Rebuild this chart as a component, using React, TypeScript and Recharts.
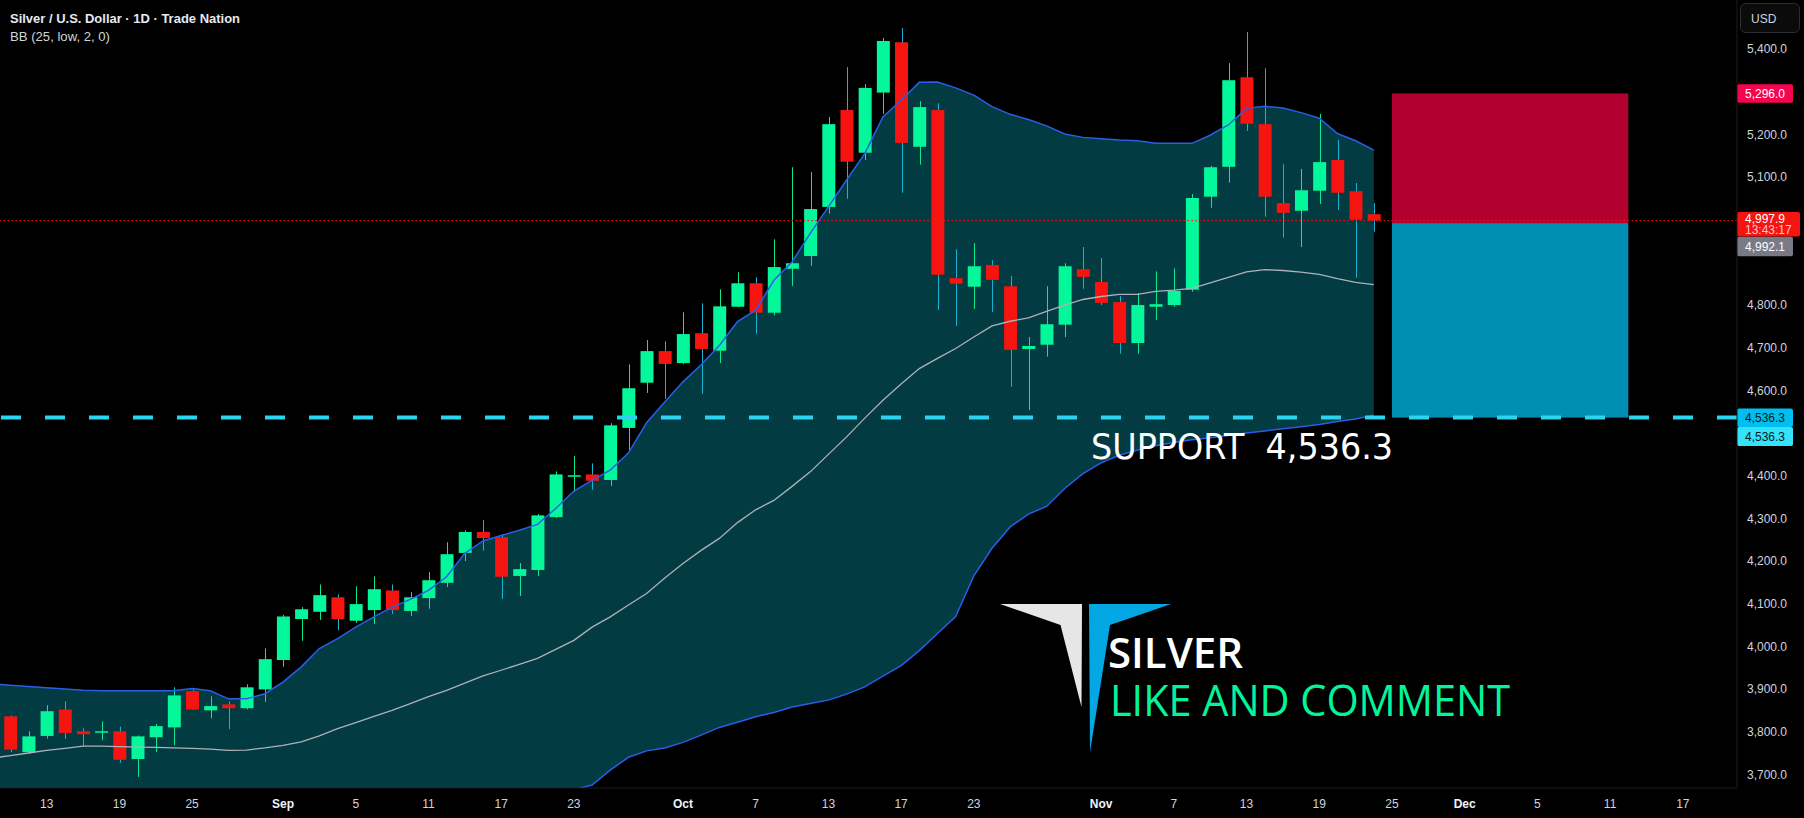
import React from 'react';
import {
  ComposedChart,
  Area,
  Line,
  Bar,
  XAxis,
  YAxis,
  ReferenceLine,
  ReferenceArea,
} from 'recharts';

// daily sessions Aug 11 .. Nov 24 (index 0..75)
const opens = [
  3836, 3752, 3790, 3852, 3801, 3799, 3801, 3736, 3787, 3810, 3895, 3850, 3864, 3855, 3899, 3968, 4064, 4081, 4115, 4060,
  4085, 4131, 4083, 4113, 4149, 4219, 4268, 4256, 4165, 4179, 4303, 4399, 4403, 4390, 4512, 4618, 4692, 4664, 4734, 4693,
  4796, 4851, 4782, 4885, 4915, 5030, 5257, 5157, 5298, 5416, 5171, 5257, 4863, 4843, 4894, 4844, 4697, 4707, 4754, 4884,
  4854, 4807, 4711, 4796, 4800, 4836, 5054, 5124, 5334, 5224, 5039, 5021, 5068, 5140, 5067, 5013,
];
const highs = [
  3838, 3801, 3862, 3871, 3808, 3824, 3812, 3791, 3818, 3904, 3899, 3883, 3871, 3911, 3995, 4074, 4092, 4145, 4122, 4141,
  4164, 4145, 4127, 4174, 4244, 4272, 4296, 4263, 4195, 4310, 4410, 4446, 4429, 4523, 4661, 4718, 4715, 4783, 4804, 4837,
  4877, 4865, 4954, 5123, 5112, 5241, 5358, 5318, 5426, 5449, 5278, 5273, 4931, 4945, 4905, 4868, 4725, 4844, 4898, 4936,
  4910, 4821, 4828, 4879, 4886, 5060, 5126, 5367, 5440, 5355, 5130, 5119, 5248, 5187, 5086, 5039,
];
const lows = [
  3752, 3748, 3784, 3783, 3766, 3780, 3727, 3694, 3752, 3768, 3851, 3831, 3806, 3852, 3870, 3952, 4013, 4062, 4038, 4055,
  4052, 4076, 4071, 4088, 4139, 4200, 4224, 4111, 4118, 4165, 4301, 4362, 4367, 4376, 4458, 4594, 4580, 4662, 4592, 4664,
  4795, 4733, 4776, 4845, 4892, 5014, 5049, 5140, 5248, 5063, 5129, 4789, 4751, 4791, 4784, 4608, 4554, 4679, 4725, 4838,
  4800, 4686, 4686, 4765, 4796, 4831, 5028, 5087, 5208, 5007, 4958, 4936, 5037, 5023, 4864, 4972,
];
const closes = [
  3758, 3789, 3848, 3797, 3794, 3801, 3734, 3789, 3813, 3885, 3852, 3860, 3855, 3904, 3970, 4070, 4087, 4120, 4064, 4099,
  4134, 4085, 4115, 4155, 4216, 4268, 4254, 4163, 4181, 4307, 4403, 4401, 4388, 4518, 4605, 4692, 4662, 4732, 4697, 4797,
  4851, 4782, 4889, 4898, 5025, 5224, 5136, 5309, 5419, 5180, 5264, 4871, 4850, 4891, 4859, 4695, 4704, 4755, 4891, 4866,
  4805, 4711, 4800, 4802, 4833, 5051, 5123, 5327, 5225, 5054, 5016, 5069, 5135, 5063, 5000, 4997.9,
];

// Bollinger bands, one extra leading session (Aug 8) that sits off the left edge
const bbUpper = [
  3912, 3909, 3906, 3903, 3900, 3897, 3896, 3896, 3896, 3896, 3896, 3901, 3896, 3877, 3877, 3889, 3916, 3952, 3995, 4018,
  4045, 4069, 4092, 4110, 4131, 4163, 4218, 4247, 4260, 4272, 4286, 4323, 4364, 4389, 4413, 4453, 4524, 4573, 4620, 4660,
  4705, 4761, 4788, 4858, 4901, 4968, 5030, 5093, 5155, 5241, 5280, 5322, 5323, 5309, 5292, 5265, 5247, 5235, 5220, 5201,
  5193, 5190, 5187, 5185, 5179, 5179, 5179, 5198, 5222, 5261, 5266, 5262, 5251, 5238, 5202, 5185, 5163,
];
const bbMid = [
  3738, 3744, 3750, 3756, 3761, 3766, 3766, 3765, 3764, 3763, 3762, 3761, 3759, 3756, 3757, 3762, 3768, 3776, 3790, 3807,
  3821, 3836, 3850, 3866, 3882, 3897, 3914, 3931, 3944, 3958, 3972, 3993, 4014, 4045, 4069, 4097, 4124, 4160, 4194, 4225,
  4253, 4290, 4320, 4342, 4375, 4409, 4450, 4491, 4535, 4577, 4615, 4651, 4675, 4698, 4725, 4751, 4762, 4770, 4785, 4800,
  4813, 4820, 4825, 4825, 4832, 4835, 4839, 4852, 4865, 4878, 4883, 4881, 4877, 4872, 4862, 4853, 4848,
];
const bbLower = [
  3564, 3579, 3594, 3609, 3622, 3635, 3636, 3634, 3632, 3630, 3628, 3621, 3622, 3635, 3637, 3635, 3620, 3600, 3585, 3596,
  3597, 3603, 3608, 3622, 3633, 3631, 3610, 3615, 3628, 3644, 3658, 3663, 3664, 3675, 3710, 3740, 3755, 3762, 3775, 3792,
  3810, 3822, 3835, 3845, 3858, 3866, 3874, 3888, 3905, 3930, 3955, 3990, 4030, 4070, 4165, 4230, 4280, 4310, 4328, 4370,
  4405, 4430, 4448, 4460, 4470, 4478, 4484, 4489, 4494, 4500, 4505, 4510, 4515, 4520, 4527, 4533, 4542,
];

const dateTicks = [2, 6, 10, 15, 19, 23, 27, 31, 37, 41, 45, 49, 53, 60, 64, 68, 72, 76, 80, 84, 88, 92];
const dateLabels = ['13', '19', '25', 'Sep', '5', '11', '17', '23', 'Oct', '7', '13', '17', '23', 'Nov', '7', '13', '19', '25', 'Dec', '5', '11', '17'];
// 4,500 / 4,900 / 5,000 / 5,300 sit under the price tags in the picture
const priceTicks = [3700, 3800, 3900, 4000, 4100, 4200, 4300, 4400, 4600, 4700, 4800, 5100, 5200, 5400];

const lastPrice = 4997.9;
const entryPrice = 4992.1;
const stopPrice = 5296.0;
const supportPrice = 4536.3;
const countdown = '13:43:17';
const boxFrom = 76;
const boxTo = 89;

const GREEN = '#04f79a';
const RED = '#f5140f';
const GREEN_WICK = '#0be890';
const RED_WICK = '#19b2d2';
const FONT = '"Liberation Sans", Arial, sans-serif';

const rows: any[] = [];
for (let i = -1; i < 95; i++) {
  const row: any = { i };
  const b = i + 1;
  if (b < bbUpper.length) {
    row.band = [bbLower[b], bbUpper[b]];
    row.up = bbUpper[b];
    row.mid = bbMid[b];
    row.low = bbLower[b];
  }
  if (i >= 0 && i < opens.length) {
    row.o = opens[i];
    row.h = highs[i];
    row.l = lows[i];
    row.c = closes[i];
    row.hl = [lows[i], highs[i]];
  }
  rows.push(row);
}

function Candle(props: any) {
  const { x, y, width, height, payload } = props;
  if (!payload || payload.o == null) return null;
  const top = Math.min(y, y + height);
  const bot = Math.max(y, y + height);
  const span = payload.h - payload.l || 1;
  const py = (p: number) => bot - ((p - payload.l) / span) * (bot - top);
  const up = payload.c >= payload.o;
  const cx = Math.round(x + width / 2) + 0.5;
  const bTop = py(Math.max(payload.o, payload.c));
  const bBot = py(Math.min(payload.o, payload.c));
  return (
    <g>
      <line x1={cx} x2={cx} y1={top} y2={bot} stroke={up ? GREEN_WICK : RED_WICK} strokeWidth={1} />
      <rect x={x} y={bTop} width={width} height={Math.max(bBot - bTop, 1.5)} fill={up ? GREEN : RED} />
    </g>
  );
}

function DateTick(props: any) {
  const { x, y, payload } = props;
  const k = dateTicks.indexOf(payload.value);
  const label = dateLabels[k] ?? '';
  const month = isNaN(Number(label));
  return (
    <text
      x={x}
      y={y}
      dy="0.71em"
      textAnchor="middle"
      fontFamily={FONT}
      fontSize={12}
      fontWeight={month ? 700 : 400}
      fill={month ? '#f0f3fa' : '#d1d4dc'}
    >
      {label}
    </text>
  );
}

const fmt = (v: number) =>
  v.toLocaleString('en-US', { minimumFractionDigits: 1, maximumFractionDigits: 1 });

// price tags on the right scale, placed from the reference line's own y
function Tags({ viewBox, tags }: any) {
  if (!viewBox) return null;
  const x = viewBox.x + viewBox.width;
  const y = viewBox.y;
  return (
    <g>
      {tags.map((t: any, k: number) => (
        <g key={k}>
          <rect x={x} y={y + t.dy} width={t.w} height={t.h} fill={t.bg} rx={2} />
          {t.lines.map((ln: any, j: number) => (
            <text
              key={j}
              x={x + 8}
              y={y + t.dy + ln.cy}
              dy="0.35em"
              fontFamily={FONT}
              fontSize={12}
              fill={ln.color}
            >
              {ln.text}
            </text>
          ))}
        </g>
      ))}
    </g>
  );
}

function PosBox(props: any) {
  const { x, y, width, height, fill } = props;
  return <rect x={x} y={y} width={width} height={height} fill={fill} />;
}

export default function App() {
  return (
    <div style={{ position: 'absolute', left: 0, top: 0, width: 1804, height: 818, background: '#000', overflow: 'hidden' }}>
      <ComposedChart width={1804} height={818} data={rows} margin={{ top: 0, right: 0, bottom: 0, left: 0 }}>
        <XAxis
          dataKey="i"
          type="number"
          domain={[-0.567, 94.98]}
          allowDataOverflow
          ticks={dateTicks}
          tick={<DateTick />}
          tickLine={false}
          tickSize={0}
          tickMargin={11}
          height={30}
          axisLine={{ stroke: '#1c1c1c' }}
        />
        <YAxis
          orientation="right"
          domain={[3668, 5515]}
          allowDataOverflow
          ticks={priceTicks}
          tickFormatter={fmt}
          tickLine={false}
          tickSize={0}
          tickMargin={10}
          width={67}
          axisLine={{ stroke: '#1c1c1c' }}
          tick={{ fill: '#d1d4dc', fontSize: 12, fontFamily: FONT }}
        />
        <Area dataKey="band" stroke="none" fill="#023b42" fillOpacity={1} isAnimationActive={false} connectNulls={false} />
        <Line dataKey="up" stroke="#2a5ee8" strokeWidth={1.5} dot={false} isAnimationActive={false} />
        <Line dataKey="low" stroke="#2a5ee8" strokeWidth={1.5} dot={false} isAnimationActive={false} />
        <Line dataKey="mid" stroke="#aeb1b8" strokeWidth={1.3} dot={false} isAnimationActive={false} />
        <ReferenceArea x1={boxFrom} x2={boxTo} y1={entryPrice} y2={stopPrice} fill="#b2002f" fillOpacity={1} shape={<PosBox />} />
        <ReferenceArea x1={boxFrom} x2={boxTo} y1={supportPrice} y2={entryPrice} fill="#008fb4" fillOpacity={1} shape={<PosBox />} />
        <ReferenceLine y={lastPrice} stroke={RED} strokeWidth={1} strokeDasharray="1.5 2.5" />
        <Bar dataKey="hl" barSize={13} shape={(p: any) => <Candle {...p} />} isAnimationActive={false} />
        <ReferenceLine
          y={supportPrice}
          stroke="#2ad4ee"
          strokeWidth={4}
          strokeDasharray="20 24"
          label={(p: any) => (
            <Tags
              viewBox={p.viewBox}
              tags={[
                { dy: -9, h: 18.5, w: 56, bg: '#00bff0', lines: [{ text: fmt(supportPrice), cy: 9.2, color: '#0b1820' }] },
                { dy: 9.5, h: 19, w: 56, bg: '#33e2fb', lines: [{ text: fmt(supportPrice), cy: 9.5, color: '#0b1820' }] },
              ]}
            />
          )}
        />
        <ReferenceLine
          y={stopPrice}
          strokeOpacity={0}
          label={(p: any) => (
            <Tags
              viewBox={p.viewBox}
              tags={[{ dy: -9.2, h: 18.5, w: 56, bg: '#f5054f', lines: [{ text: fmt(stopPrice), cy: 9.2, color: '#ffffff' }] }]}
            />
          )}
        />
        <ReferenceLine
          y={entryPrice}
          strokeOpacity={0}
          label={(p: any) => (
            <Tags
              viewBox={p.viewBox}
              tags={[{ dy: 13.7, h: 19.5, w: 56, bg: '#787b86', lines: [{ text: fmt(entryPrice), cy: 9.7, color: '#ffffff' }] }]}
            />
          )}
        />
        <ReferenceLine
          y={lastPrice}
          strokeOpacity={0}
          label={(p: any) => (
            <Tags
              viewBox={p.viewBox}
              tags={[
                {
                  dy: -8.5,
                  h: 24.5,
                  w: 63,
                  bg: '#f5140f',
                  lines: [
                    { text: fmt(lastPrice), cy: 6.5, color: '#ffffff' },
                    { text: countdown, cy: 17.5, color: '#ffc6c6' },
                  ],
                },
              ]}
            />
          )}
        />
      </ComposedChart>

      <svg width={1804} height={818} style={{ position: 'absolute', left: 0, top: 0, pointerEvents: 'none' }}>
        <text x={10} y={23} fontFamily={FONT} fontSize={13} fontWeight={700} fill="#e6e9f0" textLength={230} lengthAdjust="spacingAndGlyphs">
          Silver / U.S. Dollar · 1D · Trade Nation
        </text>
        <text x={10} y={41} fontFamily={FONT} fontSize={12.5} fill="#d1d4dc" textLength={100} lengthAdjust="spacingAndGlyphs">
          BB (25, low, 2, 0)
        </text>

        <rect x={1740.5} y={3.5} width={59} height={29} rx={5} fill="#0b0b0b" stroke="#2a2e39" />
        <text x={1751} y={22.5} fontFamily={FONT} fontSize={12} fill="#d1d4dc">USD</text>

        <text x={1091} y={459} fontFamily='"DejaVu Sans", sans-serif' fontSize={36} fill="#ffffff" textLength={302} lengthAdjust="spacingAndGlyphs">
          {'SUPPORT\u00a0\u00a04,536.3'}
        </text>

        <polygon points="1000,604 1082,604 1081.5,707 1060.5,625" fill="#e6e6e6" />
        <polygon points="1089,604 1171,604 1110,625 1090,752" fill="#02a7e3" />
        <text x={1108} y={668} fontFamily='"Open Sans", sans-serif' fontSize={42} fontWeight={600} fill="#ffffff" textLength={135} lengthAdjust="spacingAndGlyphs">
          SILVER
        </text>
        <text x={1110} y={716} fontFamily='"Open Sans", sans-serif' fontSize={43} fill="#02f59b" textLength={400} lengthAdjust="spacingAndGlyphs">
          LIKE AND COMMENT
        </text>
      </svg>
    </div>
  );
}
